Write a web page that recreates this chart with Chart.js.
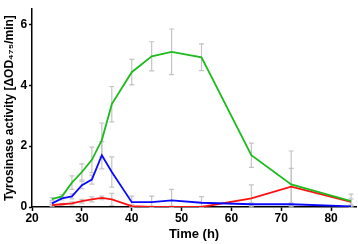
<!DOCTYPE html>
<html><head><meta charset="utf-8">
<script src="https://cdn.jsdelivr.net/npm/chart.js@4"></script>
<style>html,body{margin:0;padding:0;background:#fff}#w{width:358px;height:244px}</style>
</head><body><div id="w"><canvas id="c"></canvas></div>
<script>
const hours = [24,26,28,30,32,34,36,40,44,48,54,64,72,84];
const green = [0.26,0.35,0.8,1.15,1.55,2.2,3.38,4.43,4.95,5.1,4.92,1.7,0.74,0.19];
const greenErr = [0.05,0.06,0.22,0.27,0.42,0.56,0.58,0.42,0.48,0.75,0.44,0.4,1.1,0.23];
const blue = [0.12,0.28,0.35,0.72,0.9,1.7,1.15,0.16,0.16,0.22,0.14,0.09,0.09,0.02];
const blueErr = [0.03,0.05,0.08,0.12,0.15,0.45,0.5,0.2,0.2,0.36,0.2,0.05,0.05,0.03];
const red = [0.06,0.09,0.12,0.19,0.25,0.3,0.25,0.03,0.0,0.0,0.0,0.28,0.67,0.17];
const redErr = [0.03,0.03,0.05,0.06,0.08,0.06,0.2,0.05,0.03,0.03,0.03,0.45,0.6,0.1];
const xTicks = [20,30,40,50,60,70,80];
const yTicks = [0,2,4,6];

const pts = (v) => hours.map((h,i)=>({x:h,y:v[i]}));
const errBars = {
  id:'errBars',
  beforeDatasetsDraw(chart){
    const {ctx, scales:{x,y}} = chart;
    ctx.save();
    ctx.strokeStyle = '#c4c4c4';
    ctx.lineWidth = 1.2;
    chart.data.datasets.forEach(ds=>{
      ds.err.forEach((e,i)=>{
        const px = x.getPixelForValue(hours[i]);
        const lo = y.getPixelForValue(Math.max(0,ds.data[i].y - e));
        const hi = y.getPixelForValue(ds.data[i].y + e);
        ctx.beginPath();
        ctx.moveTo(px,lo); ctx.lineTo(px,hi);
        ctx.moveTo(px-2.5,lo); ctx.lineTo(px+2.5,lo);
        ctx.moveTo(px-2.5,hi); ctx.lineTo(px+2.5,hi);
        ctx.stroke();
      });
    });
    ctx.restore();
  }
};
const font = {family:'"Liberation Sans", Arial, sans-serif', weight:'bold', size:12};
new Chart(document.getElementById('c'),{
  type:'line',
  data:{datasets:[
    {data:pts(green), err:greenErr, borderColor:'#1dbb1d', borderWidth:1.8, pointRadius:0, tension:0},
    {data:pts(blue), err:blueErr, borderColor:'#0a0aff', borderWidth:1.8, pointRadius:0, tension:0},
    {data:pts(red), err:redErr, borderColor:'#ff1010', borderWidth:1.8, pointRadius:0, tension:0}
  ]},
  options:{
    responsive:true, maintainAspectRatio:false, animation:false,
    layout:{padding:{left:2,right:2,top:0,bottom:2}},
    plugins:{legend:{display:false},tooltip:{enabled:false}},
    scales:{
      x:{type:'linear', min:20, max:85,
        afterBuildTicks:(s)=>{s.ticks = xTicks.map(v=>({value:v}));},
        grid:{display:true, drawOnChartArea:false, tickLength:4, color:'#000', tickWidth:1.5},
        border:{display:true,color:'#000',width:1.5},
        ticks:{color:'#000', font:font, padding:0, maxRotation:0},
        title:{display:true,text:'Time (h)',color:'#000',font:{...font,size:13},padding:{top:1,bottom:0}}
      },
      y:{min:0, max:6.5,
        afterBuildTicks:(s)=>{s.ticks = yTicks.map(v=>({value:v}));},
        grid:{display:true, drawOnChartArea:false, tickLength:3, color:'#000', tickWidth:1.5},
        border:{display:true,color:'#000',width:1.5},
        ticks:{color:'#000', font:font, padding:2},
        title:{display:true,text:'Tyrosinase activity [ΔOD₄₇₅/min]',color:'#000',font:{...font,size:12},padding:{top:0,bottom:2}}
      }
    }
  },
  plugins:[errBars]
});
</script></body></html>
